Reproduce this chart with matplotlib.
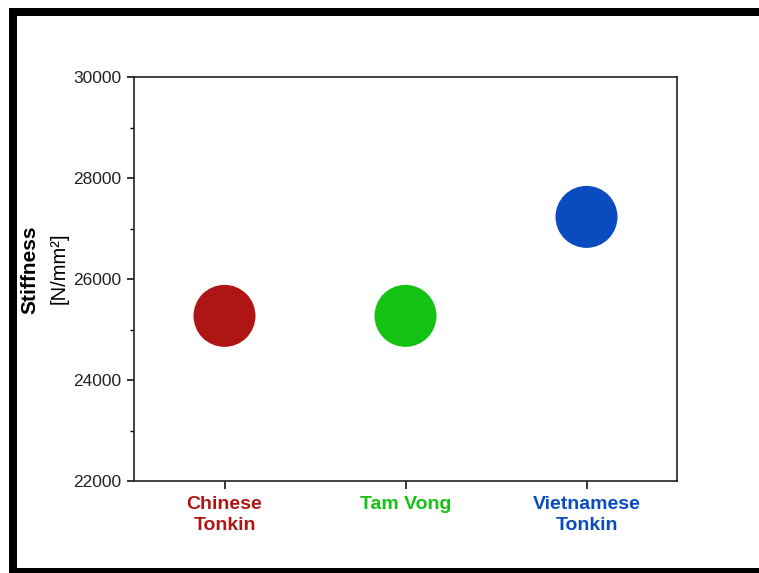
import matplotlib
matplotlib.use('Agg')
import matplotlib.pyplot as plt
from matplotlib.patches import Rectangle
from matplotlib.ticker import MultipleLocator

plt.rcParams['font.family'] = ['Liberation Sans', 'DejaVu Sans']

species = ['Chinese\nTonkin', 'Tam Vong', 'Vietnamese\nTonkin']
stiffness = [25270, 25270, 27230]
colors = ['#b01515', '#14c214', '#0a4bbf']

W, H = 759, 573
fig = plt.figure(figsize=(W / 100, H / 100), dpi=100)
fig.patch.set_facecolor('white')

ax = fig.add_axes([134 / W, 1 - 481 / H, (677 - 134) / W, (481 - 77) / H])

xs = list(range(len(species)))
ax.scatter(xs, stiffness, s=(62 * 0.72) ** 2, c=colors, edgecolors='none', zorder=3)

ax.set_xlim(-0.5, 2.5)
ax.set_ylim(22000, 30000)
ax.yaxis.set_major_locator(MultipleLocator(2000))
ax.yaxis.set_minor_locator(MultipleLocator(1000))

ax.set_xticks(xs)
ax.set_xticklabels(species, fontsize=14, fontweight='bold', linespacing=1.3)
for lbl, c in zip(ax.get_xticklabels(), colors):
    lbl.set_color(c)

ax.tick_params(axis='y', direction='out', length=5, width=1.1, pad=4,
               labelsize=12.5, labelcolor='#222222')
ax.tick_params(axis='y', which='minor', direction='out', length=3, width=1.0)
ax.tick_params(axis='x', direction='out', length=6, width=1.1, pad=5)

for sp in ax.spines.values():
    sp.set_linewidth(1.2)
    sp.set_color('#222222')

# two-part y label: bold quantity, regular unit
fig.text(30 / W, 1 - 270 / H, 'Stiffness', rotation=90, fontsize=15,
         fontweight='bold', ha='center', va='center')
fig.text(59 / W, 1 - 268 / H, '[N/mm²]', rotation=90, fontsize=14.5,
         ha='center', va='center')

# black frame around the figure
frame = dict(transform=None, facecolor='black', edgecolor='none', zorder=10)
fig.add_artist(Rectangle((9, H - 16), W - 9, 8, **frame))
fig.add_artist(Rectangle((9, 0), 8, H - 8, **frame))
fig.add_artist(Rectangle((9, 0), W - 9, 5, **frame))

fig.savefig('out.png', dpi=100)
